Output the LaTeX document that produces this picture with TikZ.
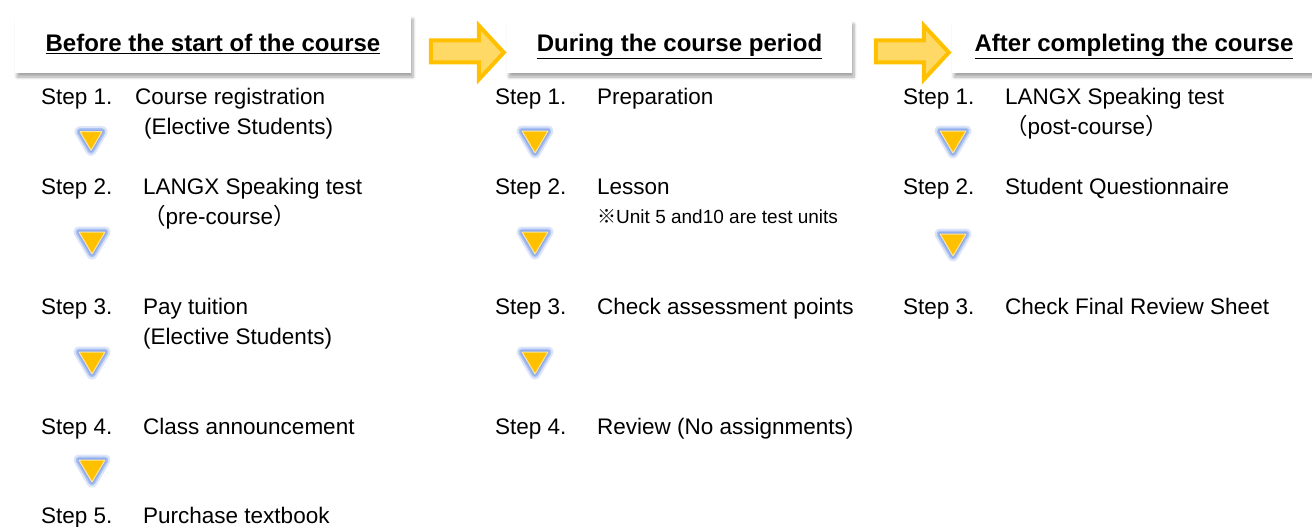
\documentclass[tikz,border=0pt]{standalone}
\usepackage{fontspec}
\setmainfont{Liberation Sans}
\newfontfamily\cjk{Noto Sans CJK JP}
\usepackage{tikz}
\definecolor{arrowfill}{RGB}{255, 217, 102}
\definecolor{arrowline}{RGB}{255, 192, 0}
\definecolor{markfill}{RGB}{255, 192, 0}
\definecolor{markrim}{RGB}{255, 230, 153}
\definecolor{glow}{RGB}{140, 170, 235}
\usetikzlibrary{positioning}
\usetikzlibrary{shadows.blur}

\begin{document}
\begin{tikzpicture}[x=1pt, y=-1pt,
  every node/.style={inner sep=0pt, font=\fontsize{22.5}{27}\selectfont},
  phase/.style={fill=white, blur shadow={shadow xshift=2pt, shadow yshift=-4pt, shadow blur radius=3pt, shadow blur steps=6, shadow opacity=35}, font=\fontsize{24}{28}\selectfont\bfseries},
  steptext/.style={anchor=base west},
  notetext/.style={anchor=base west, font=\fontsize{19}{23}\selectfont},
  phasearrow/.pic={
    \draw[fill=arrowfill, draw=arrowline, line width=4pt, line join=miter] (-76,-6) -- (-28,-6) -- (-28,-21) -- (-3,6) -- (-28,33) -- (-28,16) -- (-76,16) -- cycle;
  },
  downmark/.pic={
    \draw[glow, line width=11pt, line join=round, opacity=0.3] (-13,-11) -- (13,-11) -- (0,11) -- cycle;
    \draw[glow, line width=7pt, line join=round, opacity=0.6] (-13,-11) -- (13,-11) -- (0,11) -- cycle;
    \draw[glow, line width=4pt, line join=round, opacity=0.9] (-13,-11) -- (13,-11) -- (0,11) -- cycle;
    \draw[markrim, fill=markfill, line width=1pt, line join=round] (-13,-11) -- (13,-11) -- (0,11) -- cycle;
  }]
\useasboundingbox (0,0) rectangle (1312,527);

% phase headers (upright y so the shadow falls down)
\begin{scope}[y=1pt]
\node[phase, minimum width=396pt, minimum height=58pt] (before) at (213,-44) {\underline{Before the start of the course}};
\node[phase, minimum width=345pt, minimum height=53pt] (during) at (679.5,-46.5) {\underline{During the course period}};
\node[phase, minimum width=364pt, minimum height=53pt] (after) at (1134,-46.5) {\underline{After completing the course}};
\end{scope}
\pic at (during.west) {phasearrow};
\pic at (after.west) {phasearrow};

% before the start of the course
\node[steptext] (b1) at (41,104) {Step 1.};
\node[steptext] (b1t) at (135,104) {Course registration};
\node[steptext] (b1n) at (144,134) {(Elective Students)};
\node[steptext] (b2) at (41,194) {Step 2.};
\node[steptext] (b2t) at (143,194) {LANGX Speaking test};
\node[steptext] (b2n) at (143,224) {{\cjk （}pre-course{\cjk ）}};
\node[steptext] (b3) at (41,314) {Step 3.};
\node[steptext] (b3t) at (143,314) {Pay tuition};
\node[steptext] (b3n) at (143,344) {(Elective Students)};
\node[steptext] (b4) at (41,434) {Step 4.};
\node[steptext] (b4t) at (143,434) {Class announcement};
\node[steptext] (b5) at (41,523) {Step 5.};
\node[steptext] (b5t) at (143,523) {Purchase textbook};
\pic[scale=0.85] at (91,141) {downmark};
\pic at (92,243) {downmark};
\pic at (92,363) {downmark};
\pic at (92,471) {downmark};

% during the course period
\node[steptext] (d1) at (495,104) {Step 1.};
\node[steptext] (d1t) at (597,104) {Preparation};
\node[steptext] (d2) at (495,194) {Step 2.};
\node[steptext] (d2t) at (597,194) {Lesson};
\node[notetext] (d2n) at (597,223) {{\cjk ※}Unit 5 and10 are test units};
\node[steptext] (d3) at (495,314) {Step 3.};
\node[steptext] (d3t) at (597,314) {Check assessment points};
\node[steptext] (d4) at (495,434) {Step 4.};
\node[steptext] (d4t) at (597,434) {Review (No assignments)};
\pic at (535,142) {downmark};
\pic at (535,243) {downmark};
\pic at (535,363) {downmark};

% after completing the course
\node[steptext] (a1) at (903,104) {Step 1.};
\node[steptext] (a1t) at (1005,104) {LANGX Speaking test};
\node[steptext] (a1n) at (1005,134) {{\cjk （}post-course{\cjk ）}};
\node[steptext] (a2) at (903,194) {Step 2.};
\node[steptext] (a2t) at (1005,194) {Student Questionnaire};
\node[steptext] (a3) at (903,314) {Step 3.};
\node[steptext] (a3t) at (1005,314) {Check Final Review Sheet};
\pic at (953,142) {downmark};
\pic at (953,245) {downmark};
\end{tikzpicture}
\end{document}
